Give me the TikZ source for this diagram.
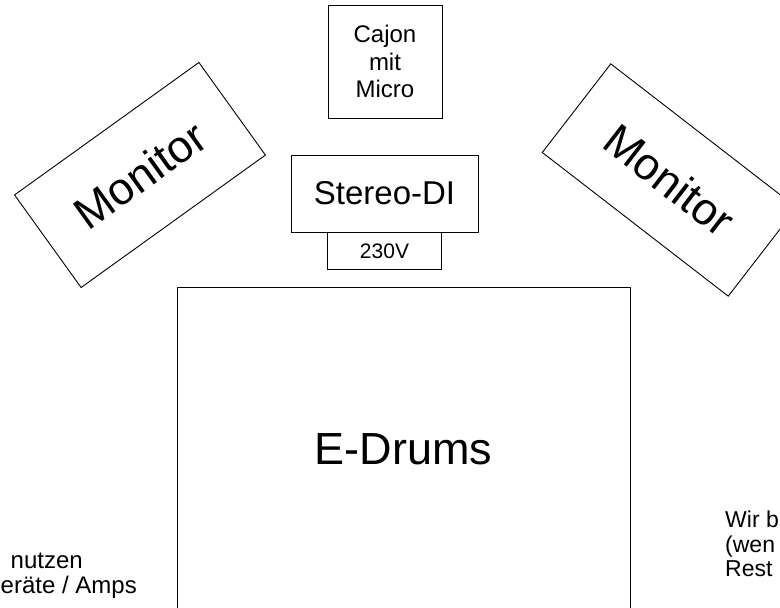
\documentclass[tikz,border=0pt]{standalone}
\usepackage{fontspec}
\setmainfont{Liberation Sans}
\usetikzlibrary{positioning}
\newcommand{\fsz}[2]{\fontsize{#1}{#2}\selectfont}

\begin{document}
\begin{tikzpicture}[x=1pt, y=-1pt, box/.style={draw, line width=0.9pt, inner sep=0pt, align=center}]
    \useasboundingbox (0,0) rectangle (780,608);
    \clip (0,0) rectangle (780,608);

    \node[box, minimum width=114pt, minimum height=113pt, font=\fsz{24}{27.5}] (cajon) at (385, 61.5) {Cajon\\mit\\Micro};
    \node[box, minimum width=187pt, minimum height=77pt, font=\fsz{33}{38}] (di) at (384.5, 193.5) {Stereo-DI};
    \node[box, minimum width=114pt, minimum height=37pt, font=\fsz{21}{24}, below=0pt of di] (power) {230V};
    \node[box, minimum width=453pt, minimum height=324pt, font=\fsz{45}{52}] (drums) at (403.5, 449) {E-Drums};
    \node[box, minimum width=227pt, minimum height=114pt, font=\fsz{45}{52}, rotate=35.7] (monL) at (140, 175) {Monitor};
    \node[box, minimum width=235pt, minimum height=112pt, font=\fsz{45}{52}, rotate=-37.7] (monR) at (669.5, 180) {Monitor};

    \node[anchor=base east, inner sep=0pt, font=\fsz{24}{25}] (noteL1) at (83, 568) {nutzen};
    \node[anchor=base east, inner sep=0pt, font=\fsz{24}{25}] (noteL2) at (137, 593) {eräte / Amps};
    \node[anchor=north west, align=left, inner sep=0pt, font=\fsz{23}{24.5}] (noteR) at (725, 511) {Wir b\\(wen\\Rest};
\end{tikzpicture}
\end{document}
